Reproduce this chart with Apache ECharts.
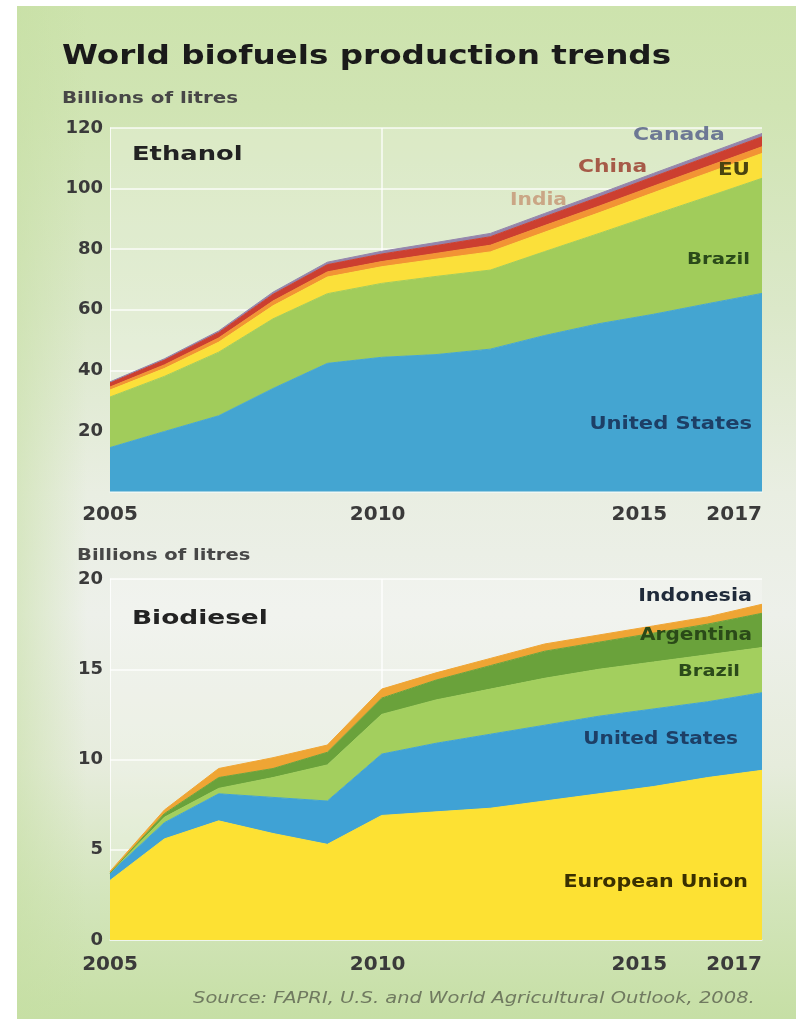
<!DOCTYPE html>
<html>
<head>
<meta charset="utf-8">
<script src="https://cdn.jsdelivr.net/npm/echarts@6/dist/echarts.min.js"></script>
<style>
html, body { margin: 0; padding: 0; background: #fff; }
#panel {
  position: absolute; left: 17px; top: 6px; width: 779px; height: 1013px;
  background:
    linear-gradient(to right, rgba(198,223,163,0.55) 0px, rgba(198,223,163,0) 70px),
    linear-gradient(to bottom, #cde3ad 0%, #d0e4b3 10%, #dbe8c9 30%, #e9eee2 48%, #edf0ea 60%, #e6ecdc 75%, #d3e5bb 88%, #c6dfa5 100%);
}
#chart { position: absolute; left: 0; top: 0; width: 796px; height: 1019px; }
</style>
</head>
<body>
<div id="panel"></div>
<div id="chart"></div>
<script>
// years on both x axes, and the ones that get a label
var years = ['2005','2006','2007','2008','2009','2010','2011','2012','2013','2014','2015','2016','2017'];
var shownYears = ['2005','2010','2015','2017'];

// Ethanol, billions of litres (stacked bottom -> top)
var ethUS     = [14.5, 19.8, 25.0, 34.0, 42.3, 44.3, 45.2, 47.0, 51.5, 55.4, 58.5, 62.0, 65.4];
var ethBrazil = [16.7, 18.2, 21.0, 23.0, 23.0, 24.4, 25.8, 26.1, 27.7, 29.8, 32.8, 35.3, 38.0];
var ethEU     = [2.3, 2.6, 3.3, 4.3, 5.5, 5.5, 5.7, 6.0, 6.4, 6.8, 7.3, 7.8, 8.2];
var ethIndia  = [1.0, 1.2, 1.4, 1.6, 1.7, 1.7, 1.9, 2.2, 2.2, 2.2, 2.2, 2.2, 2.2];
var ethChina  = [1.4, 1.6, 1.8, 2.2, 2.4, 2.5, 2.6, 2.8, 2.9, 3.0, 3.1, 3.2, 3.3];
var ethCanada = [0.3, 0.4, 0.5, 0.7, 0.8, 0.9, 1.0, 1.1, 1.1, 1.1, 1.1, 1.1, 1.1];

// Biodiesel, billions of litres (stacked bottom -> top)
var bioEU        = [3.3, 5.6, 6.6, 5.9, 5.3, 6.9, 7.1, 7.3, 7.7, 8.1, 8.5, 9.0, 9.4];
var bioUS        = [0.4, 0.9, 1.5, 2.0, 2.4, 3.4, 3.8, 4.1, 4.2, 4.3, 4.3, 4.2, 4.3];
var bioBrazil    = [0.0, 0.3, 0.3, 1.1, 2.0, 2.2, 2.4, 2.5, 2.6, 2.6, 2.6, 2.6, 2.5];
var bioArgentina = [0.0, 0.2, 0.6, 0.5, 0.7, 0.9, 1.1, 1.3, 1.5, 1.5, 1.6, 1.7, 1.9];
var bioIndonesia = [0.1, 0.2, 0.5, 0.6, 0.4, 0.5, 0.4, 0.4, 0.4, 0.4, 0.4, 0.4, 0.5];

var FONT = '"DejaVu Sans", sans-serif';
var myChart = echarts.init(document.getElementById('chart'), null, {renderer: 'canvas'});

function area(name, data, color, idx, stack) {
    return {
        name: name, type: 'line', stack: stack, data: data,
        xAxisIndex: idx, yAxisIndex: idx,
        symbol: 'none', showSymbol: false, silent: true,
        lineStyle: {width: 1, color: color},
        itemStyle: {color: color},
        areaStyle: {color: color, opacity: 1}
    };
}

function label(text, x, y, size, color, align, sx, weight, style) {
    return {
        type: 'text', x: x, y: y, scaleX: sx, silent: true, z: 100,
        style: {
            text: text,
            font: (style || 'normal') + ' ' + (weight || 'bold') + ' ' + size + 'px ' + FONT,
            fill: color,
            align: align, textAlign: align,
            verticalAlign: 'middle', textVerticalAlign: 'middle'
        }
    };
}

function xAxisFor(idx, margin) {
    return {
        type: 'category', gridIndex: idx, data: years, boundaryGap: false,
        axisLine: {show: true, lineStyle: {color: '#eef6f2', width: 1.5}},
        axisTick: {show: false},
        axisLabel: {
            interval: function (i, v) { return shownYears.indexOf(v) >= 0; },
            margin: margin, color: '#3a3a3a', fontFamily: FONT, fontWeight: 'bold', fontSize: 20,
            alignMaxLabel: 'right',
            formatter: function (v) {
                if (v === '2015') return '{a|2015}';
                if (v === '2010') return '{b|2010}';
                return v;
            },
            rich: {
                a: {padding: [0, 28, 0, 0], color: '#3a3a3a', fontFamily: FONT, fontWeight: 'bold', fontSize: 20},
                b: {padding: [0, 8, 0, 0], color: '#3a3a3a', fontFamily: FONT, fontWeight: 'bold', fontSize: 20}
            }
        },
        splitLine: {
            show: true,
            interval: function (i) { return i === 5; },
            lineStyle: {color: 'rgba(255,255,255,0.85)', width: 1.5}
        }
    };
}

function yAxisFor(idx, max, interval, hideZero) {
    return {
        type: 'value', gridIndex: idx, min: 0, max: max, interval: interval,
        axisLine: {show: true, lineStyle: {color: 'rgba(255,255,255,0.8)', width: 1}},
        axisTick: {show: false},
        axisLabel: {
            margin: 7, color: '#3a3a3a', fontFamily: FONT, fontWeight: 'bold', fontSize: 18,
            formatter: function (v) { return (hideZero && v === 0) ? '' : String(v); }
        },
        splitLine: {lineStyle: {color: 'rgba(255,255,255,0.85)', width: 1.5}}
    };
}

var option = {
    animation: false,
    backgroundColor: 'transparent',
    grid: [
        {left: 110, right: 34, top: 128, bottom: 527.5, show: true,
         backgroundColor: 'rgba(255,255,255,0.22)', borderWidth: 0},
        {left: 110, right: 34, top: 579, bottom: 79, show: true,
         backgroundColor: 'rgba(255,255,255,0.22)', borderWidth: 0}
    ],
    xAxis: [xAxisFor(0, 13), xAxisFor(1, 15)],
    yAxis: [yAxisFor(0, 120, 20, true), yAxisFor(1, 20, 5, false)],
    series: [
        area('United States', ethUS, '#44a5d1', 0, 'eth'),
        area('Brazil', ethBrazil, '#a1cc5b', 0, 'eth'),
        area('EU', ethEU, '#fbe03a', 0, 'eth'),
        area('India', ethIndia, '#f29434', 0, 'eth'),
        area('China', ethChina, '#cc3f30', 0, 'eth'),
        area('Canada', ethCanada, '#9485ac', 0, 'eth'),

        area('European Union', bioEU, '#fde133', 1, 'bio'),
        area('United States', bioUS, '#3fa2d5', 1, 'bio'),
        area('Brazil', bioBrazil, '#a3cf5e', 1, 'bio'),
        area('Argentina', bioArgentina, '#6aa23b', 1, 'bio'),
        area('Indonesia', bioIndonesia, '#efa534', 1, 'bio')
    ],
    graphic: [
        label('World biofuels production trends', 62, 57, 26, '#1a1a1a', 'left', 1.255),
        label('Billions of litres', 62, 99, 16, '#474747', 'left', 1.24),
        label('Ethanol', 132, 155, 20, '#222', 'left', 1.29),
        label('Canada', 633, 136, 17, '#6d7894', 'left', 1.29),
        label('China', 578, 168, 17, '#a65a48', 'left', 1.28),
        label('India', 510, 201, 17, '#caa685', 'left', 1.19),
        label('EU', 750, 171, 17, '#4a4410', 'right', 1.26),
        label('Brazil', 750, 260, 16, '#2b4a1a', 'right', 1.23),
        label('United States', 752, 425, 17, '#1d3f66', 'right', 1.24),

        label('Billions of litres', 77, 556, 16, '#474747', 'left', 1.22),
        label('Biodiesel', 132, 619, 20, '#222', 'left', 1.32),
        label('Indonesia', 752, 597, 17, '#1f2a3a', 'right', 1.22),
        label('Argentina', 752, 636, 17, '#2a4a18', 'right', 1.18),
        label('Brazil', 740, 672, 16, '#2b4a1a', 'right', 1.21),
        label('United States', 738, 740, 17, '#1d3f66', 'right', 1.18),
        label('European Union', 748, 883, 17, '#3a3000', 'right', 1.21),

        label('Source: FAPRI, U.S. and World Agricultural Outlook, 2008.', 193, 999, 15, '#707a60', 'left', 1.3, 'normal', 'italic')
    ]
};

myChart.setOption(option);
</script>
</body>
</html>
